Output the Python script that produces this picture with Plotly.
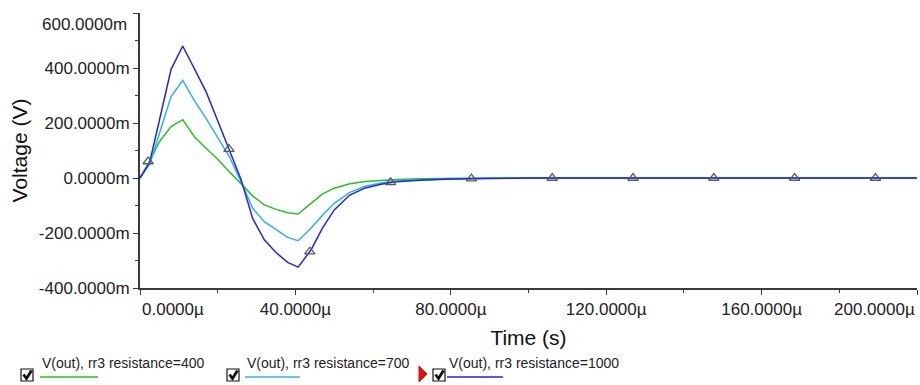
import plotly.graph_objects as go

# ---------------- data (time in µs, voltage in mV) ----------------
t_us = [0, 2.5, 5, 8, 11, 14, 17, 20, 23, 26, 29, 32, 35, 38, 40.7, 44, 47, 50,
        54, 58, 62, 66, 72, 80, 90, 100, 120, 140, 160, 180, 200]
v_400 = [0, 60, 132, 187, 212, 150, 108, 68, 23, -22, -65, -98, -114, -126, -131, -92, -58, -37,
         -21, -13, -8, -5, -3, -1, 0, 0, 0, 0, 0, 0, 0]
v_700 = [0, 50, 162, 296, 355, 281, 217, 150, 78, -13, -110, -159, -189, -216, -228, -183, -135, -92,
         -52, -30, -18, -11, -6, -3, -1, 0, 0, 0, 0, 0, 0]
v_1000 = [0, 58, 210, 395, 480, 399, 314, 208, 105, -5, -147, -225, -271, -307, -324, -262, -181, -116,
          -62, -36, -23, -14, -8, -4, -2, 0, 0, 0, 0, 0, 0]

# cursor/marker triangles sitting on the resistance=1000 trace
mark_t = [2.1, 22.9, 43.7, 64.5, 85.3, 106.1, 126.9, 147.7, 168.5, 189.3]
mark_v = [60, 105, -268, -16, -2, 0, 0, 0, 0, 0]

series_names = ["V(out), rr3 resistance=400", "V(out), rr3 resistance=700", "V(out), rr3 resistance=1000"]
series_colors = ["#22c322", "#2cb2f0", "#2222ee"]

y_tickvals = [-400, -200, 0, 200, 400, 600]
y_ticktext = ["-400.0000m", "-200.0000m", "0.0000m", "200.0000m", "400.0000m", ""]
x_tickvals = [0, 40, 80, 120, 160, 200]
x_ticktext = ["", "40.0000µ", "80.0000µ", "120.0000µ", "160.0000µ", ""]

# ---------------- layout geometry ----------------
W, H = 920, 385
L, R, T, B = 140, 3, 13, 97
PW, PH = W - L - R, H - T - B


def px(x):
    return (x - L) / PW


def py(y):
    return (H - B - y) / PH


FONT = "Arial, Liberation Sans, sans-serif"

fig = go.Figure()
for vals, name, col in zip([v_400, v_700, v_1000], series_names, series_colors):
    fig.add_trace(go.Scatter(x=t_us, y=vals, mode="lines", name=name,
                             line=dict(color=col, width=1.5), showlegend=False))

fig.add_trace(go.Scatter(x=mark_t, y=mark_v, mode="markers", showlegend=False,
                         marker=dict(symbol="triangle-up-open", size=9, color="#5a5a5a",
                                     line=dict(width=1.3, color="#5a5a5a"))))

axis_col = "#3a3a3a"
fig.update_xaxes(range=[0, 200], tickmode="array", tickvals=x_tickvals, ticktext=x_ticktext,
                 ticks="outside", ticklen=5, tickwidth=1.2, tickcolor=axis_col,
                 showline=True, linecolor=axis_col, linewidth=2, showgrid=False, zeroline=False,
                 tickfont=dict(family=FONT, size=17, color="#222"),
                 minor=dict(ticks="outside", ticklen=3, tickcolor=axis_col, tickmode="linear",
                            tick0=0, dtick=20, showgrid=False),
                 title=dict(text="Time (s)", font=dict(family=FONT, size=21, color="#111"), standoff=12))
fig.update_yaxes(range=[-400, 600], tickmode="array", tickvals=y_tickvals, ticktext=y_ticktext,
                 ticks="outside", ticklen=5, tickwidth=1.2, tickcolor=axis_col,
                 showline=True, linecolor=axis_col, linewidth=2, showgrid=False, zeroline=False,
                 tickfont=dict(family=FONT, size=17, color="#222"),
                 minor=dict(ticks="outside", ticklen=3, tickcolor=axis_col, tickmode="linear",
                            tick0=0, dtick=100, showgrid=False),
                 title=dict(text="Voltage (V)", font=dict(family=FONT, size=21, color="#111"), standoff=6))

annotations = []
shapes = []
# edge tick labels shifted inward, as in the reference
annotations.append(dict(x=0, y=py(309), xref="x", yref="paper", text="0.0000µ", showarrow=False,
                        xanchor="left", yanchor="middle", font=dict(family=FONT, size=17, color="#222")))
annotations.append(dict(x=200, y=py(309), xref="x", yref="paper", text="200.0000µ", showarrow=False,
                        xanchor="right", yanchor="middle", font=dict(family=FONT, size=17, color="#222")))
annotations.append(dict(x=px(129), y=py(24), xref="paper", yref="paper", text="600.0000m", showarrow=False,
                        xanchor="right", yanchor="middle", font=dict(family=FONT, size=17, color="#222")))

# custom checkbox legend
legend_box_x = [21, 227, 433]
legend_text_x = [40, 245, 447]
legend_line_end = [98, 300, 503]
for bx, tx, le, name, col in zip(legend_box_x, legend_text_x, legend_line_end, series_names, series_colors):
    shapes.append(dict(type="rect", xref="paper", yref="paper", x0=px(bx), x1=px(bx + 12),
                       y0=py(381), y1=py(369), line=dict(color="#111", width=1.2), fillcolor="white"))
    shapes.append(dict(type="path", xref="paper", yref="paper",
                       path=f"M {px(bx + 2.5)} {py(374.5)} L {px(bx + 5.5)} {py(378.5)} L {px(bx + 10.5)} {py(370.5)}",
                       line=dict(color="#111", width=2.8)))
    annotations.append(dict(x=px(tx), y=py(363), xref="paper", yref="paper", text=name, showarrow=False,
                            xanchor="left", yanchor="middle", font=dict(family=FONT, size=14, color="#222")))
    shapes.append(dict(type="line", xref="paper", yref="paper", x0=px(tx), x1=px(le), y0=py(377), y1=py(377),
                       line=dict(color=col, width=1.6)))
# red active-trace marker
shapes.append(dict(type="path", xref="paper", yref="paper",
                   path=f"M {px(419)} {py(366)} L {px(427)} {py(374)} L {px(419)} {py(382)} Z",
                   fillcolor="#e01010", line=dict(color="#e01010", width=1)))

fig.update_layout(width=W, height=H, autosize=False,
                  margin=dict(l=L, r=R, t=T, b=B, pad=0),
                  paper_bgcolor="white", plot_bgcolor="white",
                  showlegend=False, annotations=annotations, shapes=shapes)

fig.write_html("out.html")
